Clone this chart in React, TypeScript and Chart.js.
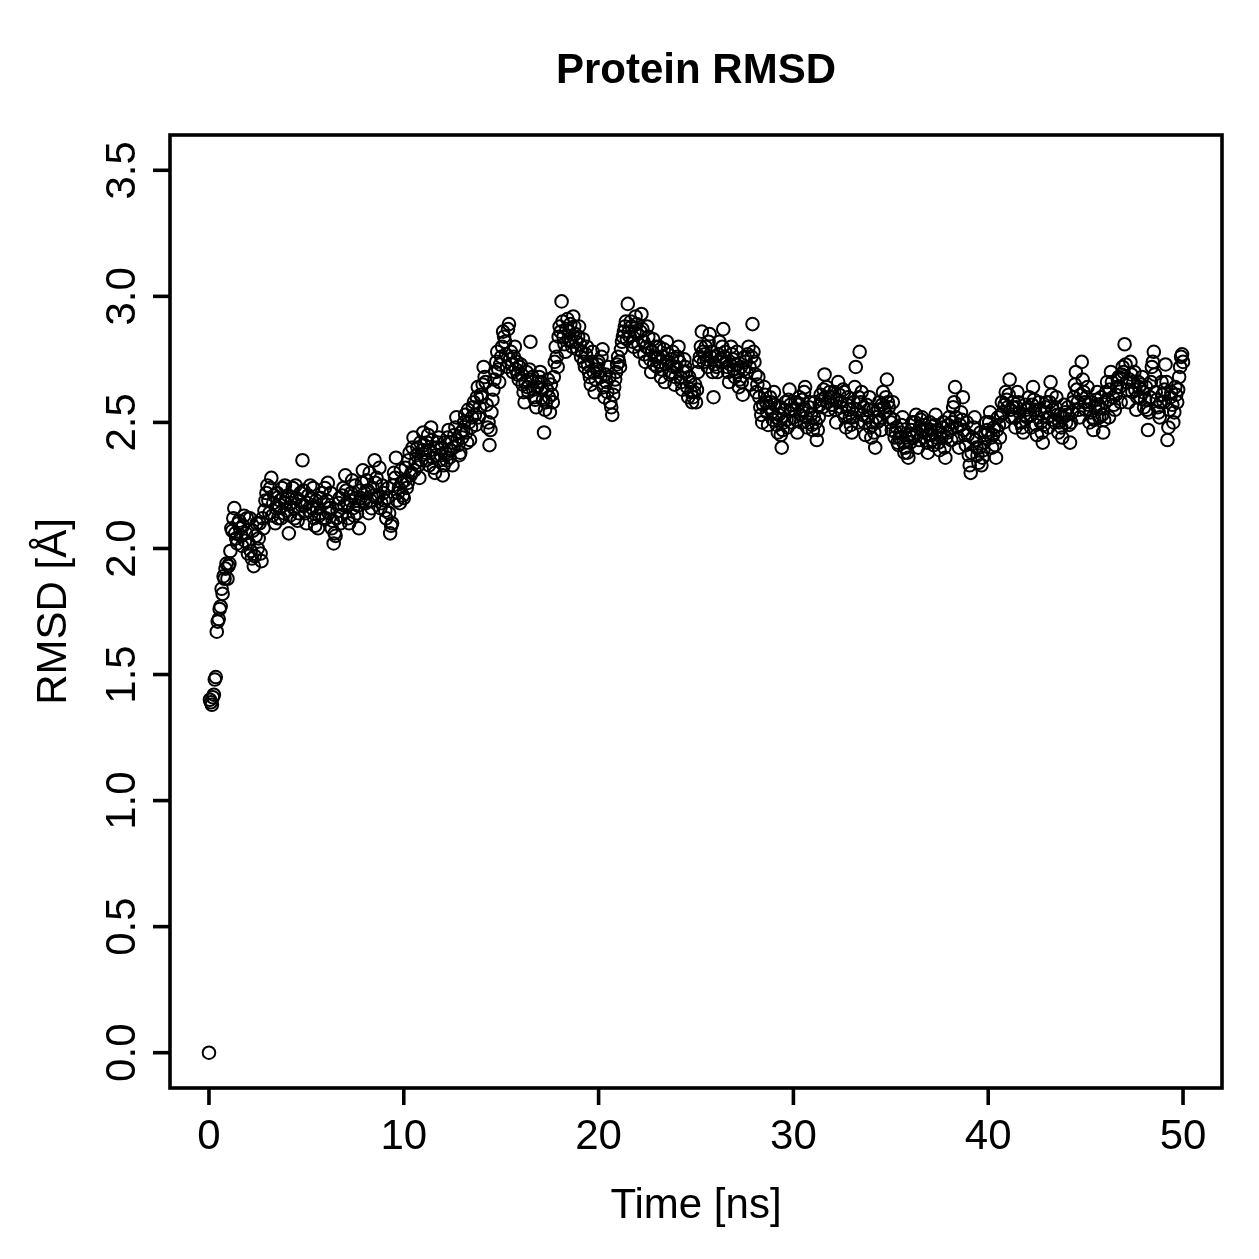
import React, { useEffect, useRef } from "react";
import { Chart, registerables } from "chart.js";

Chart.register(...registerables);

const TITLE = "Protein RMSD";
const X_LABEL = "Time [ns]";
const Y_LABEL = "RMSD [Å]";
const TIME_STEP_NS = 0.1;

// RMSD (Å) at t = 0.0, 0.1, 0.2 ... 50.0 ns (one row per ns)
const RMSD: number[] = [
  0.00, 1.39, 1.41, 1.48, 1.67, 1.72, 1.77, 1.82, 1.88, 1.94,
  1.93, 1.99, 2.07, 2.16, 2.04, 2.10, 2.08, 2.01, 2.13, 2.06,
  1.98, 2.12, 1.96, 1.93, 2.05, 2.00, 2.10, 1.95, 2.08, 2.19,
  2.25, 2.14, 2.28, 2.18, 2.10, 2.22, 2.16, 2.12, 2.20, 2.25,
  2.15, 2.06, 2.18, 2.24, 2.12, 2.20, 2.14, 2.22, 2.35, 2.17,
  2.10, 2.21, 2.25, 2.16, 2.12, 2.19, 2.08, 2.14, 2.22, 2.18,
  2.12, 2.26, 2.16, 2.08, 2.02, 2.05, 2.15, 2.20, 2.13, 2.24,
  2.29, 2.18, 2.10, 2.22, 2.16, 2.25, 2.14, 2.08, 2.20, 2.31,
  2.22, 2.27, 2.14, 2.19, 2.24, 2.35, 2.28, 2.21, 2.16, 2.25,
  2.19, 2.12, 2.24, 2.06, 2.10, 2.30, 2.36, 2.22, 2.18, 2.26,
  2.20, 2.32, 2.26, 2.38, 2.30, 2.44, 2.34, 2.40, 2.28, 2.35,
  2.46, 2.38, 2.42, 2.33, 2.48, 2.36, 2.30, 2.40, 2.44, 2.37,
  2.29, 2.42, 2.35, 2.47, 2.39, 2.33, 2.45, 2.52, 2.41, 2.38,
  2.44, 2.50, 2.46, 2.55, 2.43, 2.52, 2.58, 2.49, 2.64, 2.56,
  2.60, 2.72, 2.66, 2.48, 2.41, 2.54, 2.63, 2.70, 2.78, 2.66,
  2.76, 2.86, 2.82, 2.72, 2.89, 2.78, 2.70, 2.80, 2.74, 2.67,
  2.73, 2.65, 2.58, 2.70, 2.62, 2.82, 2.68, 2.60, 2.56, 2.66,
  2.70, 2.63, 2.46, 2.58, 2.67, 2.54, 2.61, 2.68, 2.80, 2.72,
  2.88, 2.98, 2.84, 2.78, 2.91, 2.86, 2.82, 2.92, 2.85, 2.79,
  2.88, 2.76, 2.83, 2.72, 2.80, 2.70, 2.65, 2.78, 2.62, 2.71,
  2.74, 2.68, 2.79, 2.60, 2.66, 2.72, 2.58, 2.53, 2.64, 2.70,
  2.76, 2.72, 2.82, 2.86, 2.90, 2.97, 2.84, 2.88, 2.80, 2.92,
  2.85, 2.78, 2.93, 2.82, 2.74, 2.88, 2.79, 2.70, 2.83, 2.76,
  2.72, 2.80, 2.68, 2.76, 2.66, 2.82, 2.74, 2.70, 2.78, 2.65,
  2.72, 2.80, 2.68, 2.63, 2.75, 2.70, 2.60, 2.66, 2.58, 2.62,
  2.58, 2.70, 2.76, 2.86, 2.74, 2.80, 2.72, 2.85, 2.78, 2.60,
  2.76, 2.70, 2.82, 2.74, 2.87, 2.78, 2.72, 2.66, 2.80, 2.75,
  2.68, 2.78, 2.64, 2.72, 2.61, 2.76, 2.70, 2.80, 2.65, 2.89,
  2.74, 2.62, 2.68, 2.56, 2.50, 2.64, 2.58, 2.49, 2.60, 2.54,
  2.62, 2.52, 2.46, 2.56, 2.40, 2.50, 2.58, 2.48, 2.63, 2.55,
  2.52, 2.58, 2.46, 2.60, 2.50, 2.55, 2.64, 2.48, 2.56, 2.53,
  2.47, 2.58, 2.43, 2.52, 2.61, 2.56, 2.69, 2.64, 2.55, 2.60,
  2.57, 2.62, 2.50, 2.66, 2.58, 2.54, 2.62, 2.48, 2.60, 2.52,
  2.46, 2.58, 2.72, 2.50, 2.78, 2.62, 2.56, 2.45, 2.52, 2.60,
  2.44, 2.55, 2.40, 2.50, 2.58, 2.47, 2.62, 2.54, 2.67, 2.56,
  2.50, 2.58, 2.44, 2.48, 2.41, 2.46, 2.52, 2.38, 2.44, 2.36,
  2.42, 2.50, 2.45, 2.53, 2.40, 2.48, 2.52, 2.44, 2.47, 2.38,
  2.50, 2.45, 2.41, 2.53, 2.47, 2.39, 2.44, 2.50, 2.36, 2.46,
  2.52, 2.43, 2.56, 2.64, 2.48, 2.40, 2.54, 2.60, 2.45, 2.50,
  2.37, 2.30, 2.44, 2.52, 2.40, 2.34, 2.46, 2.36, 2.42, 2.50,
  2.46, 2.54, 2.40, 2.48, 2.36, 2.52, 2.44, 2.58, 2.50, 2.62,
  2.56, 2.67, 2.52, 2.58, 2.48, 2.62, 2.54, 2.50, 2.46, 2.57,
  2.52, 2.60, 2.48, 2.64, 2.55, 2.45, 2.58, 2.50, 2.42, 2.54,
  2.58, 2.48, 2.66, 2.55, 2.50, 2.60, 2.46, 2.53, 2.44, 2.57,
  2.50, 2.56, 2.42, 2.54, 2.60, 2.70, 2.58, 2.52, 2.74, 2.62,
  2.55, 2.64, 2.50, 2.58, 2.47, 2.56, 2.62, 2.52, 2.60, 2.46,
  2.58, 2.66, 2.52, 2.70, 2.60, 2.55, 2.64, 2.68, 2.58, 2.72,
  2.81, 2.66, 2.58, 2.74, 2.62, 2.70, 2.55, 2.66, 2.60, 2.68,
  2.56, 2.64, 2.47, 2.60, 2.72, 2.78, 2.62, 2.56, 2.52, 2.66,
  2.58, 2.73, 2.43, 2.55, 2.62, 2.50, 2.64, 2.58, 2.68, 2.76,
  2.74,
];

// RMSD (Å) at the half steps t = 0.05, 0.15 ... 49.95 ns (one row per ns)
const RMSD_MID: number[] = [
  1.40, 1.38, 1.42, 1.49, 1.71, 1.76, 1.84, 1.89, 1.92, 1.88,
  1.94, 2.08, 2.12, 2.06, 2.02, 2.11, 2.05, 2.09, 2.03, 2.12,
  2.02, 1.99, 2.07, 1.97, 2.10, 2.04, 1.98, 2.12, 2.15, 2.22,
  2.19, 2.24, 2.13, 2.21, 2.16, 2.12, 2.19, 2.24, 2.14, 2.18,
  2.21, 2.13, 2.20, 2.16, 2.25, 2.11, 2.19, 2.17, 2.23, 2.14,
  2.18, 2.15, 2.20, 2.24, 2.09, 2.16, 2.13, 2.20, 2.12, 2.24,
  2.19, 2.14, 2.22, 2.11, 2.06, 2.12, 2.18, 2.10, 2.21, 2.17,
  2.23, 2.12, 2.19, 2.27, 2.13, 2.20, 2.17, 2.23, 2.26, 2.19,
  2.18, 2.23, 2.30, 2.16, 2.21, 2.26, 2.20, 2.32, 2.18, 2.22,
  2.15, 2.20, 2.14, 2.09, 2.25, 2.28, 2.19, 2.24, 2.31, 2.21,
  2.27, 2.24, 2.35, 2.29, 2.40, 2.31, 2.37, 2.33, 2.42, 2.39,
  2.41, 2.35, 2.45, 2.39, 2.43, 2.32, 2.37, 2.42, 2.35, 2.40,
  2.33, 2.38, 2.44, 2.36, 2.42, 2.40, 2.48, 2.43, 2.37, 2.46,
  2.47, 2.53, 2.42, 2.50, 2.48, 2.56, 2.53, 2.60, 2.52, 2.61,
  2.65, 2.68, 2.57, 2.50, 2.47, 2.59, 2.67, 2.74, 2.71, 2.73,
  2.80, 2.84, 2.77, 2.87, 2.75, 2.73, 2.76, 2.71, 2.69, 2.72,
  2.69, 2.62, 2.66, 2.64, 2.71, 2.67, 2.63, 2.59, 2.64, 2.68,
  2.66, 2.59, 2.55, 2.63, 2.60, 2.65, 2.58, 2.74, 2.76, 2.84,
  2.86, 2.90, 2.81, 2.87, 2.83, 2.89, 2.80, 2.88, 2.82, 2.84,
  2.81, 2.78, 2.74, 2.77, 2.73, 2.68, 2.74, 2.70, 2.67, 2.73,
  2.70, 2.76, 2.64, 2.69, 2.62, 2.68, 2.56, 2.61, 2.67, 2.73,
  2.74, 2.79, 2.84, 2.88, 2.83, 2.86, 2.90, 2.82, 2.86, 2.89,
  2.81, 2.86, 2.87, 2.77, 2.80, 2.84, 2.75, 2.78, 2.73, 2.80,
  2.76, 2.74, 2.71, 2.79, 2.73, 2.77, 2.69, 2.75, 2.72, 2.68,
  2.76, 2.74, 2.66, 2.70, 2.72, 2.64, 2.68, 2.62, 2.60, 2.65,
  2.63, 2.74, 2.80, 2.78, 2.77, 2.75, 2.82, 2.76, 2.70, 2.73,
  2.72, 2.77, 2.75, 2.80, 2.76, 2.74, 2.70, 2.73, 2.77, 2.71,
  2.73, 2.70, 2.67, 2.66, 2.71, 2.74, 2.77, 2.72, 2.76, 2.78,
  2.69, 2.65, 2.60, 2.53, 2.57, 2.61, 2.54, 2.56, 2.58, 2.51,
  2.57, 2.49, 2.53, 2.45, 2.47, 2.55, 2.51, 2.59, 2.57, 2.50,
  2.55, 2.51, 2.57, 2.53, 2.59, 2.62, 2.52, 2.50, 2.58, 2.49,
  2.52, 2.50, 2.47, 2.57, 2.59, 2.63, 2.60, 2.58, 2.62, 2.57,
  2.60, 2.55, 2.59, 2.61, 2.56, 2.63, 2.52, 2.57, 2.55, 2.49,
  2.52, 2.64, 2.55, 2.60, 2.58, 2.53, 2.50, 2.57, 2.55, 2.48,
  2.50, 2.46, 2.52, 2.55, 2.51, 2.57, 2.56, 2.60, 2.58, 2.52,
  2.47, 2.51, 2.46, 2.42, 2.44, 2.49, 2.42, 2.40, 2.38, 2.45,
  2.47, 2.44, 2.50, 2.46, 2.43, 2.51, 2.47, 2.49, 2.42, 2.45,
  2.47, 2.43, 2.49, 2.44, 2.42, 2.46, 2.48, 2.40, 2.44, 2.49,
  2.47, 2.50, 2.58, 2.52, 2.44, 2.49, 2.51, 2.47, 2.41, 2.45,
  2.33, 2.38, 2.48, 2.43, 2.37, 2.40, 2.33, 2.39, 2.45, 2.47,
  2.50, 2.44, 2.45, 2.41, 2.47, 2.49, 2.53, 2.54, 2.57, 2.59,
  2.61, 2.55, 2.56, 2.52, 2.56, 2.58, 2.50, 2.48, 2.53, 2.55,
  2.56, 2.53, 2.57, 2.59, 2.49, 2.52, 2.55, 2.46, 2.49, 2.56,
  2.52, 2.58, 2.61, 2.51, 2.56, 2.53, 2.50, 2.48, 2.52, 2.54,
  2.53, 2.49, 2.50, 2.58, 2.65, 2.63, 2.55, 2.61, 2.67, 2.58,
  2.60, 2.57, 2.54, 2.52, 2.51, 2.59, 2.57, 2.56, 2.53, 2.51,
  2.62, 2.59, 2.63, 2.66, 2.57, 2.61, 2.67, 2.64, 2.69, 2.70,
  2.73, 2.63, 2.67, 2.69, 2.66, 2.63, 2.60, 2.64, 2.65, 2.62,
  2.59, 2.55, 2.54, 2.66, 2.74, 2.69, 2.59, 2.54, 2.58, 2.61,
  2.63, 2.66, 2.48, 2.60, 2.57, 2.54, 2.61, 2.63, 2.72, 2.77,
];

const X_TICKS = [0, 10, 20, 30, 40, 50];
const X_TICK_LABELS = ["0", "10", "20", "30", "40", "50"];
const Y_TICKS = [0, 0.5, 1, 1.5, 2, 2.5, 3, 3.5];
const Y_TICK_LABELS = ["0.0", "0.5", "1.0", "1.5", "2.0", "2.5", "3.0", "3.5"];

const W = 1259;
const H = 1259;
const FONT = "'Liberation Sans', Arial, Helvetica, sans-serif";

const rAxesPlugin = {
  id: "rAxes",
  afterDraw(chart: any) {
    const ctx = chart.ctx as CanvasRenderingContext2D;
    const a = chart.chartArea;
    const xs = chart.scales.x;
    const ys = chart.scales.y;
    ctx.save();
    ctx.strokeStyle = "#000";
    ctx.fillStyle = "#000";
    ctx.lineWidth = 3.6;
    ctx.lineCap = "butt";
    ctx.strokeRect(a.left, a.top, a.right - a.left, a.bottom - a.top);

    ctx.font = `42px ${FONT}`;
    ctx.textAlign = "center";
    ctx.textBaseline = "alphabetic";
    X_TICKS.forEach((v, i) => {
      const px = xs.getPixelForValue(v);
      ctx.beginPath();
      ctx.moveTo(px, a.bottom);
      ctx.lineTo(px, a.bottom + 17);
      ctx.stroke();
      ctx.fillText(X_TICK_LABELS[i], px, a.bottom + 61);
    });
    Y_TICKS.forEach((v, i) => {
      const py = ys.getPixelForValue(v);
      ctx.beginPath();
      ctx.moveTo(a.left - 17, py);
      ctx.lineTo(a.left, py);
      ctx.stroke();
      ctx.save();
      ctx.translate(a.left - 35, py);
      ctx.rotate(-Math.PI / 2);
      ctx.fillText(Y_TICK_LABELS[i], 0, 0);
      ctx.restore();
    });

    ctx.fillText(X_LABEL, (a.left + a.right) / 2, a.bottom + 130);
    ctx.save();
    ctx.translate(a.left - 104, (a.top + a.bottom) / 2);
    ctx.rotate(-Math.PI / 2);
    ctx.fillText(Y_LABEL, 0, 0);
    ctx.restore();

    ctx.font = `bold 42px ${FONT}`;
    ctx.fillText(TITLE, (a.left + a.right) / 2, 83);
    ctx.restore();
  },
};

export default function App() {
  const ref = useRef<HTMLCanvasElement | null>(null);
  useEffect(() => {
    const canvas = ref.current;
    if (!canvas) return;
    const points = RMSD.map((y, i) => ({ x: i * TIME_STEP_NS, y })).concat(
      RMSD_MID.map((y, i) => ({ x: (i + 0.5) * TIME_STEP_NS, y }))
    );
    const chart = new Chart(canvas, {
      type: "scatter",
      data: {
        datasets: [
          {
            data: points,
            showLine: false,
            pointStyle: "circle",
            pointRadius: 6.3,
            pointBorderWidth: 2,
            pointBorderColor: "#000",
            pointBackgroundColor: "rgba(0,0,0,0)",
            borderColor: "#000",
            backgroundColor: "rgba(0,0,0,0)",
          },
        ],
      },
      options: {
        animation: false,
        responsive: false,
        devicePixelRatio: 1,
        layout: { padding: { left: 170, right: W - 1222, top: 135, bottom: H - 1088 } },
        elements: { point: { radius: 6.3, borderWidth: 2 } },
        scales: {
          x: { type: "linear", min: -2, max: 52, display: false },
          y: { type: "linear", min: -0.14, max: 3.64, display: false },
        },
        plugins: {
          legend: { display: false },
          tooltip: { enabled: false },
          title: { display: false },
        },
        events: [],
      },
      plugins: [rAxesPlugin],
    });
    return () => chart.destroy();
  }, []);
  return (
    <div style={{ position: "absolute", left: 0, top: 0, width: W, height: H, background: "#fff" }}>
      <canvas ref={ref} width={W} height={H} style={{ width: W, height: H, display: "block" }} />
    </div>
  );
}
